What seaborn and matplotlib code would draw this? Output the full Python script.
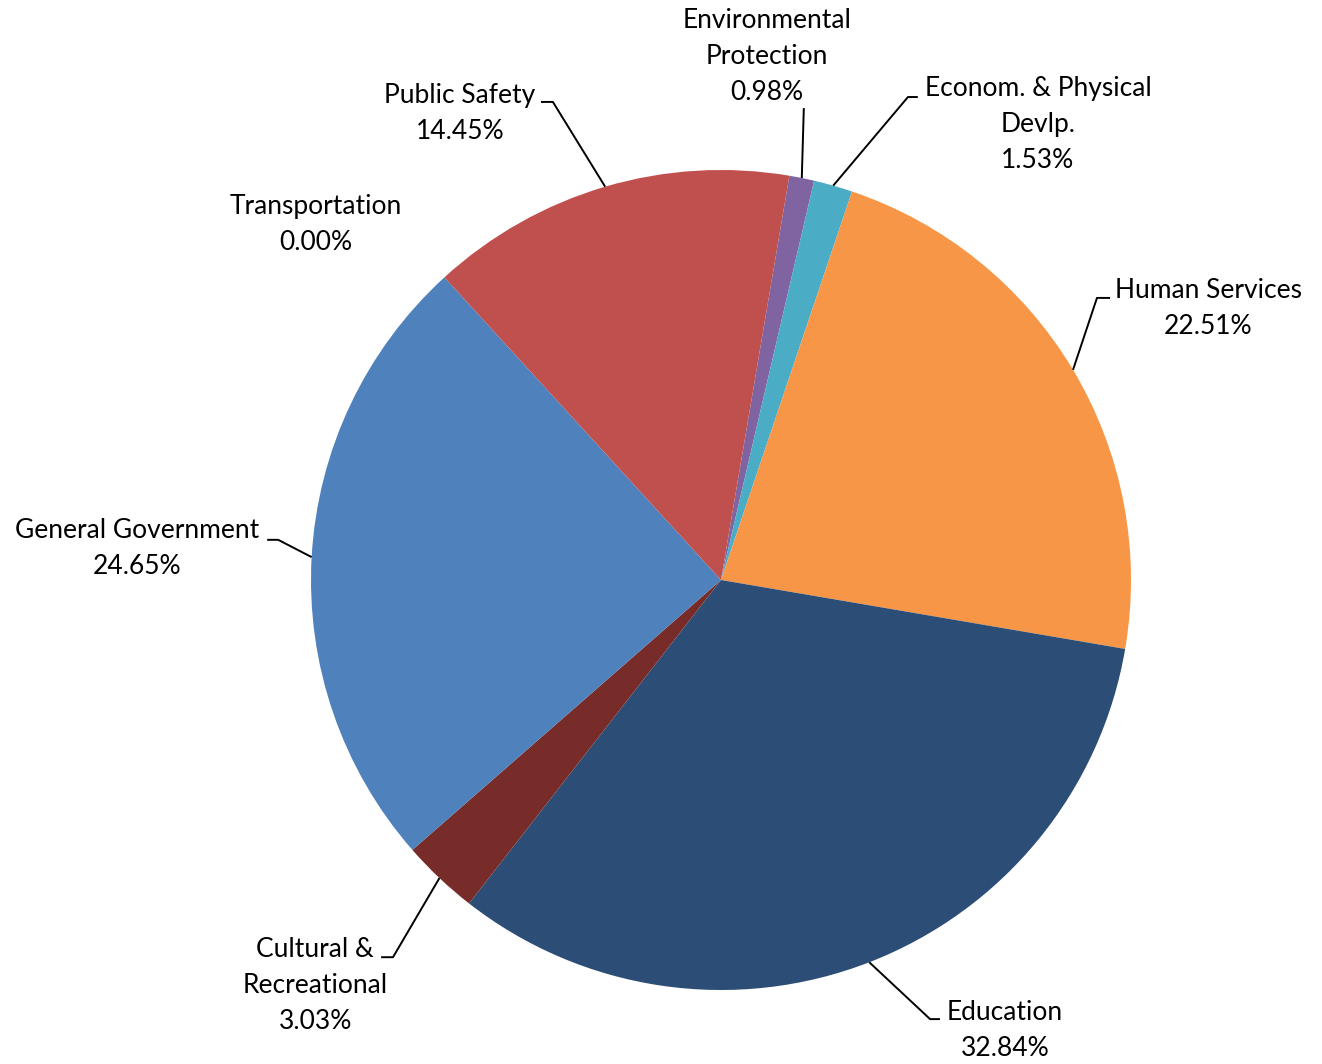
import numpy as np
import matplotlib
matplotlib.use("Agg")
import matplotlib.pyplot as plt
import seaborn as sns

# Data (clockwise from the top)
categories = ["Environmental\nProtection", "Econom. & Physical\nDevlp.", "Human Services",
              "Education", "Cultural &\nRecreational", "General Government",
              "Transportation", "Public Safety"]
shares = [0.98, 1.53, 22.51, 32.84, 3.03, 24.65, 0.00, 14.45]
colors = ["#8064A2", "#4BACC6", "#F79646", "#2C4D75", "#772C2A", "#4F81BD", "#9BBB59", "#C0504D"]

# label layout (data units, pie radius = 1): text centre, elbow point, end of short horizontal tick
label_pos = [(0.112, 1.278), (0.773, 1.112), (1.188, 0.661), (0.693, -1.098),
             (-0.990, -0.988), (-1.424, 0.078), (-0.988, 0.866), (-0.637, 1.139)]
elbows = [(0.202, 1.151), (0.456, 1.178), (0.917, 0.688), (0.510, -1.071),
          (-0.800, -0.920), (-1.080, 0.098), None, (-0.410, 1.166)]
tick_ends = [None, (0.480, 1.178), (0.949, 0.688), (0.534, -1.071),
             (-0.829, -0.920), (-1.107, 0.098), None, (-0.439, 1.166)]

sns.set_theme(style="white")
plt.rcParams['font.family'] = ['Lato', 'DejaVu Sans']

fig = plt.figure(figsize=(13.22, 10.64), dpi=100)
ax = fig.add_axes([0, 0, 1, 1])

start = 80.4
wedges, _ = ax.pie(shares, colors=colors, startangle=start, counterclock=False,
                   radius=1.0, center=(0, 0), wedgeprops=dict(linewidth=0))

for w, name, val, tp, el, te in zip(wedges, categories, shares, label_pos, elbows, tick_ends):
    ax.text(tp[0], tp[1], f"{name}\n{val:.2f}%", ha="center", va="center",
            fontsize=19, color="black", linespacing=1.55)
    if el is None:
        continue
    mid = np.deg2rad((w.theta1 + w.theta2) / 2)
    xs = [np.cos(mid), el[0]]
    ys = [np.sin(mid), el[1]]
    if te is not None:
        xs.append(te[0])
        ys.append(te[1])
    ax.plot(xs, ys, color="black", lw=1.4, solid_capstyle="butt")

ax.set_xlim(-721 / 410, (1322 - 721) / 410)
ax.set_ylim((580 - 1064) / 410, 580 / 410)
ax.set_aspect("equal")
ax.axis("off")

fig.savefig("out.png", dpi=100)
